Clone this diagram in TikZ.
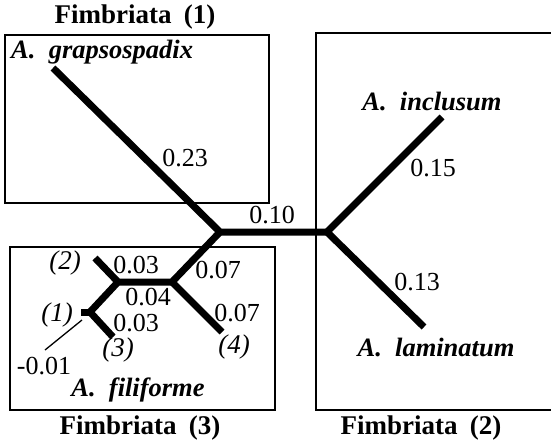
\documentclass[tikz,border=0pt]{standalone}
\usepackage{fontspec}
\setmainfont{Liberation Serif}
\begin{document}
\begin{tikzpicture}[x=1pt,y=-1pt,
  branch/.style={line width=7pt, line join=miter, line cap=butt},
  frame/.style={line width=1.2pt},
  thin/.style={line width=1.3pt},
  num/.style={font=\fontsize{26}{30}\selectfont, inner sep=0pt},
  lab/.style={font=\fontsize{27}{30}\selectfont\itshape, inner sep=0pt},
  sp/.style={font=\fontsize{26.5}{30}\selectfont\bfseries\itshape, inner sep=0pt},
  grp/.style={font=\fontsize{27}{30}\selectfont\bfseries, inner sep=0pt}]
\useasboundingbox (0,0) rectangle (551,441);
\clip (0,0) rectangle (551,441);
% frames
\draw[frame] (5,35) rectangle (269,203);
\draw[frame] (560,33) -- (316,33) -- (316,410) -- (560,410);
\draw[frame] (10,247) rectangle (275,410);
% tree coordinates
\coordinate (tipG) at (53,68);
\coordinate (A) at (220,232);
\coordinate (B) at (327,232);
\coordinate (tipI) at (442,117);
\coordinate (tipL) at (424,327);
\coordinate (C) at (172,282);
\coordinate (tip4) at (222,332);
\coordinate (D) at (118,282);
\coordinate (tip2) at (95,258);
\coordinate (E) at (90,312);
\coordinate (stub) at (81,312);
\coordinate (tip3) at (113,337);
\coordinate (t1) at (82,320);
\coordinate (t2) at (45,350);
% branches
\draw[branch] (tipG) -- (A) -- (B);
\draw[branch] (tipI) -- (B) -- (tipL);
\draw[branch] (A) -- (C) -- (tip4);
\draw[branch] (C) -- (D) -- (E) -- (tip3);
\draw[branch] (D) -- (tip2);
\draw[branch] (E) -- (stub);
\draw[thin] (t1) -- (t2);
% branch lengths
\node[num] (n23) at (185,158) {0.23};
\node[num] (n10) at (272,215) {0.10};
\node[num] (n15) at (433,168) {0.15};
\node[num] (n13) at (417,282) {0.13};
\node[num] (n07a) at (218,270) {0.07};
\node[num] (n07b) at (237,313) {0.07};
\node[num] (n03a) at (136,265) {0.03};
\node[num] (n04) at (148,297) {0.04};
\node[num] (n03b) at (136,323) {0.03};
\node[num] (n01) at (44,366) {-0.01};
% sub labels
\node[lab] (l2) at (65,263) {(2)};
\node[lab] (l1) at (57,315) {(1)};
\node[lab] (l3) at (118,350) {(3)};
\node[lab] (l4) at (234,347) {(4)};
% species
\node[sp, anchor=west] (sG) at (11,52) {A.\hspace{0.5em}grapsospadix};
\node[sp] (sI) at (432,101) {A.\hspace{0.5em}inclusum};
\node[sp] (sL) at (436,347) {A.\hspace{0.5em}laminatum};
\node[sp] (sF) at (138,390) {A.\hspace{0.5em}filiforme};
% groups
\node[grp] (g1) at (135,17) {Fimbriata\hspace{0.45em}(1)};
\node[grp] (g3) at (140,428) {Fimbriata\hspace{0.45em}(3)};
\node[grp] (g2) at (421,428) {Fimbriata\hspace{0.45em}(2)};
\end{tikzpicture}
\end{document}
